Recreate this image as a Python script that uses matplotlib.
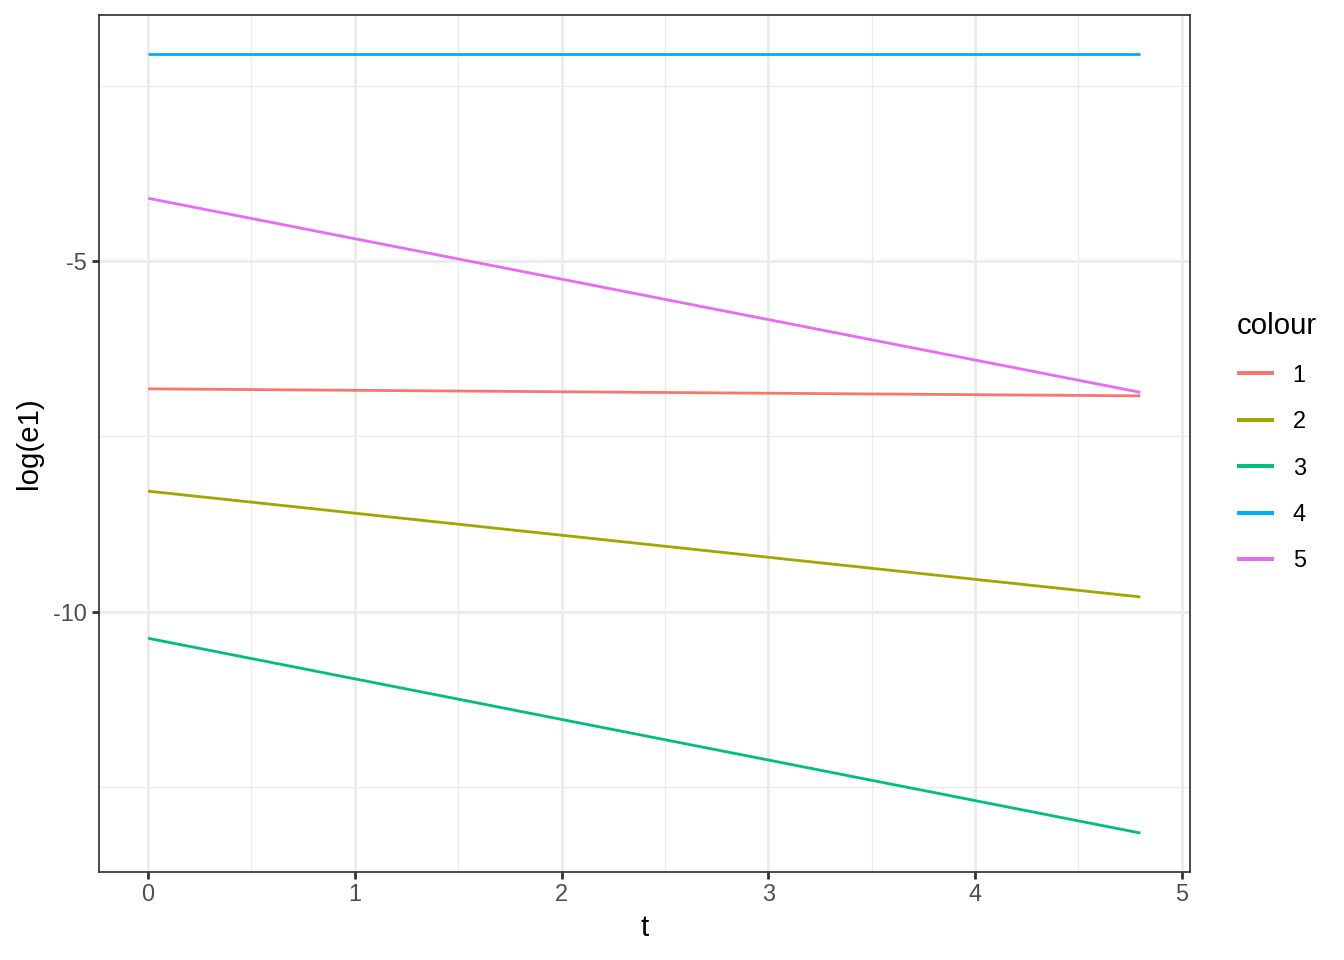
import numpy as np
import matplotlib.pyplot as plt

plt.rcParams['font.family'] = ['Liberation Sans', 'DejaVu Sans']
plt.rcParams['axes.unicode_minus'] = False

# data
t = [0.0, 4.8]
series = ['1', '2', '3', '4', '5']
log_e1 = {
    '1': [-6.82, -6.92],
    '2': [-8.28, -9.79],
    '3': [-10.38, -13.16],
    '4': [-2.04, -2.04],
    '5': [-4.10, -6.87],
}
colours = ['#F8766D', '#A3A500', '#00BF7D', '#00B0F6', '#E76BF3']

fig = plt.figure(figsize=(14, 10), dpi=96)
ax = fig.add_axes([98.5/1344, 1-872/960, (1190-98.5)/1344, (872-15)/960])

for s, c in zip(series, colours):
    ax.plot(t, log_e1[s], color=c, lw=2.1, label=s, solid_capstyle='butt', zorder=3)

# ggplot-like limits with 5% expansion
allv = np.concatenate([log_e1[s] for s in series])
lo, hi = allv.min(), allv.max()
pad = (hi - lo) * 0.05
ax.set_ylim(lo - pad, hi + pad)
ax.set_xlim(t[0] - 0.05*(t[1]-t[0]), t[1] + 0.05*(t[1]-t[0]))

ax.set_xticks([0, 1, 2, 3, 4, 5])
ax.set_yticks([-10, -5])
ax.set_xticks(np.arange(0.5, 5, 1), minor=True)
ax.set_yticks([-12.5, -7.5, -2.5], minor=True)
ax.grid(which='major', color='#EBEBEB', lw=2.1, zorder=0)
ax.grid(which='minor', color='#EBEBEB', lw=1.05, zorder=0)
ax.set_axisbelow(True)

for sp in ax.spines.values():
    sp.set_color('#333333')
    sp.set_linewidth(1.3)
ax.tick_params(which='major', length=5.5, width=2.1, color='#333333',
               labelsize=17.6, labelcolor='#4D4D4D', pad=3)
ax.tick_params(which='minor', length=0)

ax.set_xlabel('t', fontsize=22, labelpad=6)
ax.set_ylabel('log(e1)', fontsize=22, labelpad=8)

leg = fig.legend(loc='upper left', bbox_to_anchor=(1216/1344, 1-291/960),
                 title='colour', title_fontsize=22, fontsize=17.6, frameon=False,
                 handlelength=1.57, handletextpad=0.8, labelspacing=1.0,
                 alignment='left')
for h in leg.legend_handles:
    h.set_linewidth(3)

fig.savefig('out.png', dpi=96)
